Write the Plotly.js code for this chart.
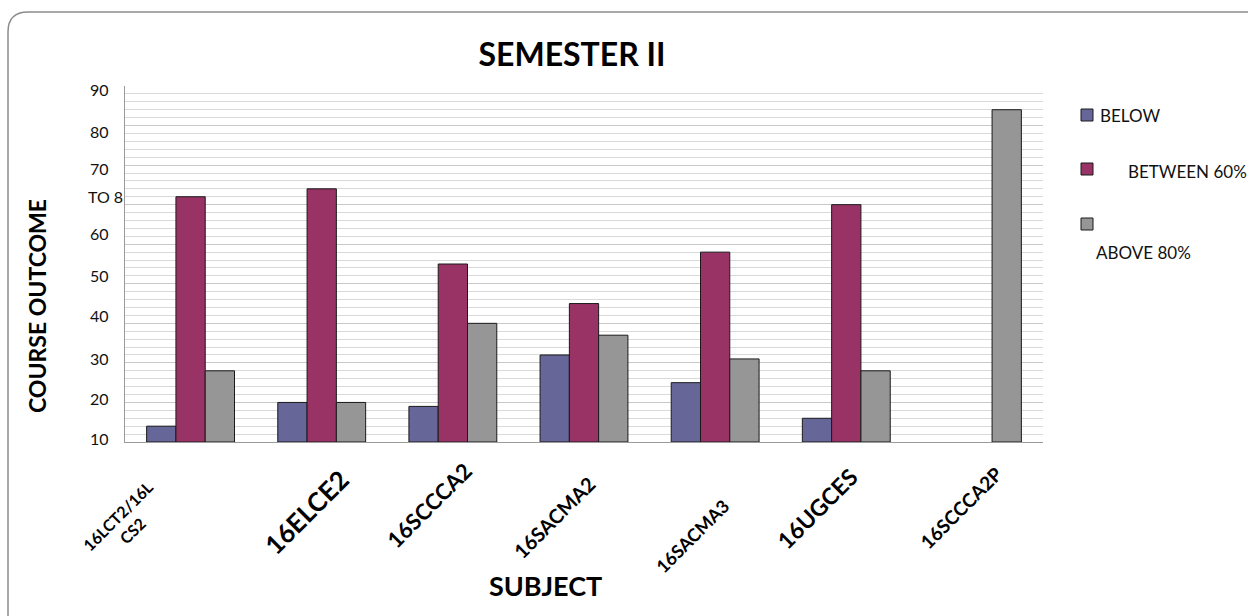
<!DOCTYPE html>
<html>
<head>
<meta charset="utf-8">
<script src="https://cdn.plot.ly/plotly-3.0.1.min.js"></script>
<style>html,body{margin:0;padding:0;background:#fff;}#chart{width:1248px;height:616px;}</style>
</head>
<body>
<div id="chart"></div>
<script>
// ---- data ----
const categories = ['16LCT2/16LCS2', '16ELCE2', '16SCCCA2', '16SACMA2', '16SACMA3', '16UGCES', '16SCCCA2P'];
const seriesNames = ['BELOW', 'BETWEEN 60%', 'ABOVE 80%'];
const below   = [4, 10, 9, 22, 15, 6, null];
const between = [62, 64, 45, 35, 48, 60, null];
const above   = [18, 10, 30, 27, 21, 18, 84];
const yTickText = ['10', '20', '30', '40', '50', '60', '70', '80', '90'];
const chartTitle = 'SEMESTER II';
const xTitle = 'SUBJECT';
const yTitle = 'COURSE OUTCOME';
const strayText = 'TO 8';

// ---- layout helpers (pixel geometry of the reference) ----
const W = 1248, H = 616, L = 125, R = 1043, T = 86, B = 442;
const px = x => (x - L) / (R - L);
const py = y => (B - y) / (B - T);
const FONT = 'Lato, "Open Sans", sans-serif';
const colors = ['#666699', '#993366', '#969696'];
const yTickPos = [1.0, 10.9, 21.2, 31.9, 42.2, 52.8, 69.2, 78.4, 89.0];
const xLabelDx = [-16, 36, 28, 19, 21, 20, 32];
const xLabelDy = [32, 19, 12, 27, 50, 17, 17];
const xLabelSize = [16, 26, 22, 20, 18, 23, 19];

const values = [below, between, above];
const traces = values.map((v, i) => ({
  type: 'bar', name: seriesNames[i], x: categories, y: v,
  marker: {color: colors[i], line: {color: '#1a1a1a', width: 1}},
  hoverinfo: 'x+y+name'
}));

const annotations = [];
// y tick labels as shown in the picture
yTickText.forEach((t, i) => annotations.push({
  text: t, x: 0, xref: 'paper', y: yTickPos[i], yref: 'y', xanchor: 'right', yanchor: 'middle',
  xshift: -14, showarrow: false, font: {family: FONT, size: 16, color: '#111'}
}));
annotations.push({text: strayText, x: px(86), xref: 'paper', y: py(196), yref: 'paper',
  xanchor: 'left', yanchor: 'middle', showarrow: false, font: {family: FONT, size: 16, color: '#111'}});
// category labels
categories.forEach((c, i) => annotations.push({
  text: c.length > 10 ? c.slice(0, 10) + '<br>' + c.slice(10) : c,
  x: c, xref: 'x', y: 0, yref: 'paper', xanchor: 'right', yanchor: 'top', textangle: -45,
  xshift: xLabelDx[i], yshift: -xLabelDy[i], showarrow: false,
  font: {family: FONT, size: xLabelSize[i], color: '#000', weight: 'bold'}
}));
// axis titles
annotations.push({text: '<b>' + xTitle + '</b>', x: px(545), y: py(585), xref: 'paper', yref: 'paper',
  xanchor: 'center', yanchor: 'middle', showarrow: false, font: {family: FONT, size: 27, color: '#000'}});
annotations.push({text: '<b>' + yTitle + '</b>', x: px(37), y: py(306), xref: 'paper', yref: 'paper',
  xanchor: 'center', yanchor: 'middle', textangle: -90, showarrow: false, font: {family: FONT, size: 23, color: '#000'}});
// custom legend
const legSw = [[1081, 109], [1081, 163], [1081, 218]];
const legTxt = [[1098, 115.5], [1126, 171.5], [1094, 252]];
const shapes = [];
seriesNames.forEach((n, i) => {
  shapes.push({type: 'rect', xref: 'paper', yref: 'paper',
    x0: px(legSw[i][0]), x1: px(legSw[i][0] + 12), y0: py(legSw[i][1]), y1: py(legSw[i][1] + 12),
    fillcolor: colors[i], line: {color: '#1a1a1a', width: 1}});
  annotations.push({text: n, x: px(legTxt[i][0]), y: py(legTxt[i][1]), xref: 'paper', yref: 'paper',
    xanchor: 'left', yanchor: 'middle', showarrow: false, font: {family: FONT, size: 17, color: '#111'}});
});
// outer rounded frame
const fp = (x, y) => px(x) + ',' + py(y);
shapes.push({type: 'path', xref: 'paper', yref: 'paper', layer: 'below',
  path: 'M' + fp(8, 620) + ' L' + fp(8, 32) + ' Q' + fp(8, 12) + ' ' + fp(28, 12) + ' L' + fp(1252, 12),
  line: {color: '#8c8c8c', width: 1.5}});

const layout = {
  width: W, height: H,
  margin: {l: L, r: W - R, t: T, b: H - B, pad: 0},
  paper_bgcolor: '#fff', plot_bgcolor: '#fff',
  showlegend: false,
  barmode: 'group', bargap: 0.33, bargroupgap: 0,
  title: {text: '<b>' + chartTitle + '</b>', x: 572 / W, xanchor: 'center',
    y: 1 - 55 / H, yanchor: 'middle', font: {family: FONT, size: 32, color: '#000'}},
  xaxis: {type: 'category', range: [-0.5, categories.length - 0.5], autorange: false,
    showticklabels: false, ticks: '', showline: true, linecolor: '#9a9a9a', linewidth: 1,
    showgrid: false, zeroline: false, fixedrange: true},
  yaxis: {range: [0, 90], autorange: false, dtick: 10, showticklabels: false, ticks: '', showline: true, linecolor: '#9a9a9a', linewidth: 1,
    showgrid: true, gridcolor: '#c8c8c8', gridwidth: 1, zeroline: false,
    minor: {dtick: 2, showgrid: true, gridcolor: '#d9d9d9', gridwidth: 1}},
  annotations: annotations,
  shapes: shapes
};

Plotly.newPlot('chart', traces, layout, {displayModeBar: false, staticPlot: true});
</script>
</body>
</html>
